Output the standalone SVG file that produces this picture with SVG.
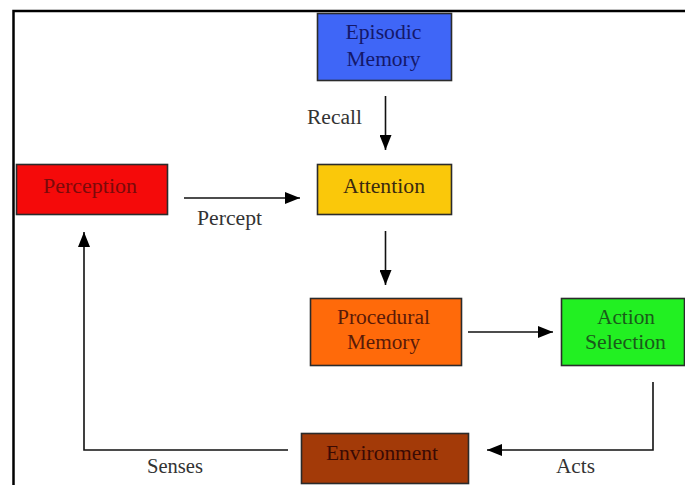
<svg xmlns="http://www.w3.org/2000/svg" width="685" height="485" viewBox="0 0 685 485">
  <style>
    .box { stroke: #2b2b2b; stroke-width: 1.6; }
    .lbl { font-family: "Liberation Serif", "Times New Roman", serif; font-size: 20px; text-anchor: middle; }
    .edge { fill: none; stroke: #111; stroke-width: 1.6; }
    .frame { fill: none; stroke: #000; stroke-width: 2.5; }
  </style>
  <defs>
    <marker id="head" markerUnits="userSpaceOnUse" markerWidth="16" markerHeight="12" refX="15" refY="6" orient="auto">
      <path d="M0,0 L15,6 L0,12 Z" fill="#000"/>
    </marker>
  </defs>

  <rect width="685" height="485" fill="#fff"/>

  <!-- outer frame (top and left edges) -->
  <path class="frame" d="M13.5,485 L13.5,11 L685,11"/>

  <!-- connectors -->
  <g id="connectors">
    <path class="edge" d="M385.5,96 L385.5,150" marker-end="url(#head)"/>
    <path class="edge" d="M184,198 L300,198" marker-end="url(#head)"/>
    <path class="edge" d="M385.5,231 L385.5,285" marker-end="url(#head)"/>
    <path class="edge" d="M468,332 L553,332" marker-end="url(#head)"/>
    <path class="edge" d="M653,382 L653,450 L487,450" marker-end="url(#head)"/>
    <path class="edge" d="M288,450 L84,450 L84,232" marker-end="url(#head)"/>
    <text class="lbl" x="334.5" y="124" fill="#333" textLength="55" lengthAdjust="spacingAndGlyphs">Recall</text>
    <text class="lbl" x="229.5" y="225" fill="#333" textLength="65" lengthAdjust="spacingAndGlyphs">Percept</text>
    <text class="lbl" x="175" y="473" fill="#333" textLength="56" lengthAdjust="spacingAndGlyphs">Senses</text>
    <text class="lbl" x="575.5" y="473" fill="#333" textLength="39" lengthAdjust="spacingAndGlyphs">Acts</text>
  </g>

  <g id="episodic-memory">
    <rect class="box" x="317.5" y="13.5" width="134" height="67" fill="#3f66f7"/>
    <text class="lbl" x="383.5" y="39" fill="#14186a" textLength="76" lengthAdjust="spacingAndGlyphs">Episodic</text>
    <text class="lbl" x="383.5" y="66" fill="#14186a" textLength="74" lengthAdjust="spacingAndGlyphs">Memory</text>
  </g>

  <g id="attention">
    <rect class="box" x="317.5" y="164.5" width="134" height="50" fill="#fac80a"/>
    <text class="lbl" x="384" y="193" fill="#3a2a10" textLength="82" lengthAdjust="spacingAndGlyphs">Attention</text>
  </g>

  <g id="perception">
    <rect class="box" x="16.5" y="164.5" width="151" height="50" fill="#f50a0a"/>
    <text class="lbl" x="90" y="193" fill="#7a0a0a" textLength="94" lengthAdjust="spacingAndGlyphs">Perception</text>
  </g>

  <g id="procedural-memory">
    <rect class="box" x="310.5" y="298.5" width="151" height="67" fill="#ff6a0a"/>
    <text class="lbl" x="383.5" y="324" fill="#5a1a08" textLength="93" lengthAdjust="spacingAndGlyphs">Procedural</text>
    <text class="lbl" x="383.5" y="349" fill="#5a1a08" textLength="73" lengthAdjust="spacingAndGlyphs">Memory</text>
  </g>

  <g id="action-selection">
    <rect class="box" x="561.5" y="298.5" width="123" height="67" fill="#22f022"/>
    <text class="lbl" x="626" y="324" fill="#1a5a1a" textLength="58" lengthAdjust="spacingAndGlyphs">Action</text>
    <text class="lbl" x="625.5" y="349" fill="#1a5a1a" textLength="81" lengthAdjust="spacingAndGlyphs">Selection</text>
  </g>

  <g id="environment">
    <rect class="box" x="301.5" y="433.5" width="167" height="50" fill="#a33a08"/>
    <text class="lbl" x="382" y="460" fill="#3a0a04" textLength="112" lengthAdjust="spacingAndGlyphs">Environment</text>
  </g>
</svg>
